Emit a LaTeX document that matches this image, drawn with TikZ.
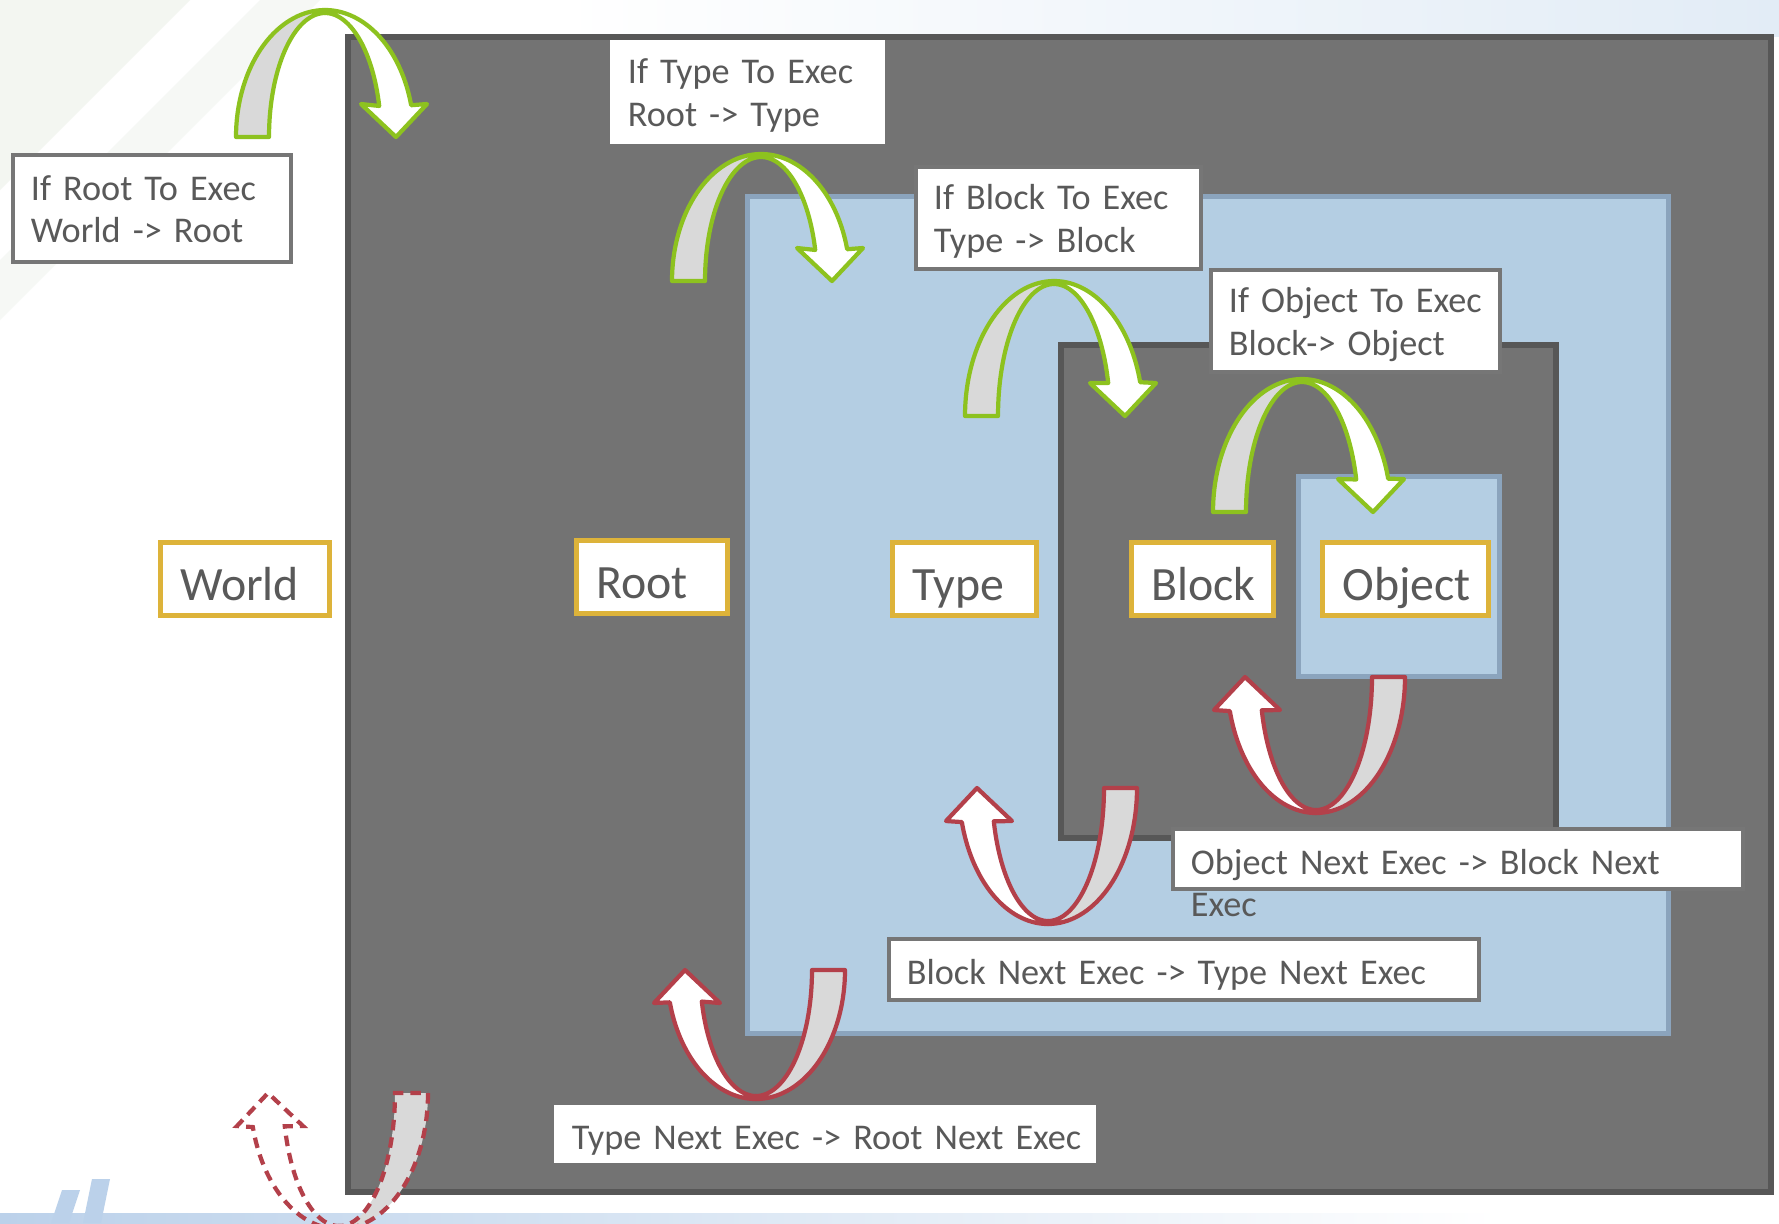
\documentclass[tikz,border=0pt]{standalone}
\usepackage{fontspec}
\setmainfont{Carlito}
\definecolor{darkfill}{HTML}{737373}
\definecolor{darkedge}{HTML}{575757}
\definecolor{bluefill}{HTML}{B4CEE3}
\definecolor{blueedge}{HTML}{8BA4BD}
\definecolor{arrgreen}{HTML}{8DC21F}
\definecolor{arrred}{HTML}{B3404A}
\definecolor{ribbon}{HTML}{D9D9D9}
\definecolor{gold}{HTML}{DDB33A}
\definecolor{txt}{HTML}{595959}
\definecolor{lbledge}{HTML}{767676}
\definecolor{decoblue}{HTML}{BBD1EA}
\definecolor{topblue}{HTML}{E2ECF6}
\definecolor{palegreen}{HTML}{F3F6F1}
\newcommand\LblFont{\fontsize{10.3}{12.2}\selectfont}
\newcommand\BoxFont{\fontsize{13.6}{16}\selectfont}
\newcommand\OneLine[1]{\makebox[\linewidth][l]{#1}}
% U-turn arrow ribbons, local frame: y up, origin = outer bottom-left of the foot
\newcommand\BackRibbon[1]{plot[domain=180:90,samples=36,variable=\t] ({89+89*cos(\t)},{#1*sin(\t)}) -- plot[domain=90:180,samples=36,variable=\t] ({89+56*cos(\t)},{(#1-3)*sin(\t)}) -- cycle}
\newcommand\FrontRibbon[1]{plot[domain=90:14.5,samples=36,variable=\t] ({89+89*cos(\t)},{#1*sin(\t)}) -- (191,33) -- (160,0) -- (125,33) -- plot[domain=14.5:90,samples=36,variable=\t] ({89+56*cos(\t)},{(#1-3)*sin(\t)}) -- cycle}
\begin{document}
\begin{tikzpicture}[x=0.01cm,y=-0.01cm,
  frame/.style={fill=darkfill,draw=darkedge,line width=1.7pt},
  bluebox/.style={fill=bluefill,draw=blueedge,line width=1.4pt},
  ybox/.style={draw=gold,line width=1.4pt,fill=white,text=txt,font=\BoxFont,align=left,
    inner xsep=0.2cm,inner ysep=0pt,minimum height=0.73cm,text height=0.43cm,text depth=0pt},
  lbl/.style={draw=lbledge,line width=1.15pt,fill=white,text=txt,font=\LblFont,align=left,
    inner xsep=0.18cm,inner ysep=0pt,text height=0.26cm,text depth=0.43cm},
  lblone/.style={lbl,text height=0.3cm,text depth=0pt},
  noedge/.style={draw=none},
  gback/.style={fill=ribbon,draw=arrgreen,line width=1.2pt,line join=round},
  gfront/.style={fill=white,draw=arrgreen,line width=1.2pt,line join=round},
  rback/.style={fill=ribbon,draw=arrred,line width=1.2pt,line join=round},
  rfront/.style={fill=white,draw=arrred,line width=1.2pt,line join=round},
  rdash/.style={draw=arrred,line width=1.2pt,dash pattern=on 3pt off 2pt},
  greenturn/.style={shift={#1},yscale=-1},
  redturn/.style={shift={#1},rotate=180,yscale=-1}]
\useasboundingbox (0,0) rectangle (1779,1223);
\clip (0,0) rectangle (1779,1223);
% faint background decoration
\fill[white] (0,0) rectangle (1779,1223);
\shade[left color=white,right color=topblue] (560,0) rectangle (1779,36);
\fill[palegreen] (0,0) -- (190,0) -- (0,190) -- cycle;
\fill[palegreen,opacity=0.7] (0,260) -- (260,0) -- (320,0) -- (0,320) -- cycle;
\shade[left color=decoblue,right color=white] (0,1213) rectangle (1500,1223);
\fill[decoblue] (62,1190) -- (80,1190) -- (69,1223) -- (51,1223) -- cycle;
\fill[decoblue] (92,1179) -- (110,1179) -- (101,1223) -- (83,1223) -- cycle;
% nested frames
\draw[frame] (348,37) rectangle (1771,1192);
\draw[bluebox] (747.5,196.5) rectangle (1668.5,1033.5);
\draw[frame,line width=1.5pt] (1061,345) rectangle (1556,838);
\draw[bluebox] (1298.5,476.5) rectangle (1499.5,676.5);
% level boxes
\node[ybox,minimum width=1.69cm,text width=1.29cm] (world) at (245,579) {World};
\node[ybox,minimum width=1.51cm,text width=1.11cm] (root) at (652,577) {Root};
\node[ybox,minimum width=1.44cm,text width=1.04cm] (type) at (964.5,579) {Type};
\node[ybox,minimum width=1.42cm,text width=1.02cm] (block) at (1202.5,579) {Block};
\node[ybox,minimum width=1.66cm,text width=1.26cm] (object) at (1405.5,579) {Object};
% labels
\node[lbl,minimum width=2.78cm,minimum height=1.07cm,text width=2.42cm] (lroot) at (152,208.5) {If Root To Exec\\World -> Root};
\node[lbl,noedge,minimum width=2.75cm,minimum height=1.04cm,text width=2.39cm] (ltype) at (747.5,92) {If Type To Exec\\Root -> Type};
\node[lbl,minimum width=2.85cm,minimum height=1.02cm,text width=2.49cm] (lblock) at (1058.5,218) {If Block To Exec\\Type -> Block};
\node[lbl,minimum width=2.89cm,minimum height=1.02cm,text width=2.53cm] (lobject) at (1355.5,321) {If Object To Exec\\Block-> Object};
\node[lblone,minimum width=5.70cm,minimum height=0.60cm,text width=5.34cm] (nobject) at (1458,859) {Object Next Exec -> Block Next\\Exec};
\node[lblone,minimum width=5.90cm,minimum height=0.61cm,text width=5.54cm] (nblock) at (1184,969.5) {\OneLine{Block Next Exec -> Type Next Exec}};
\node[lblone,noedge,minimum width=5.42cm,minimum height=0.58cm,text width=5.06cm] (ntype) at (825,1134) {\OneLine{Type Next Exec -> Root Next Exec}};
% green "enter" U-turn arrows
\begin{scope}[greenturn={(236,137)}]
  \draw[gback] \BackRibbon{127}; \draw[gfront] \FrontRibbon{127};
\end{scope}
\begin{scope}[greenturn={(672,281)}]
  \draw[gback] \BackRibbon{127}; \draw[gfront] \FrontRibbon{127};
\end{scope}
\begin{scope}[greenturn={(965,416)}]
  \draw[gback] \BackRibbon{135}; \draw[gfront] \FrontRibbon{135};
\end{scope}
\begin{scope}[greenturn={(1213,512)}]
  \draw[gback] \BackRibbon{133}; \draw[gfront] \FrontRibbon{133};
\end{scope}
% red "next" U-turn arrows
\begin{scope}[redturn={(1405,677)}]
  \draw[rback] \BackRibbon{136}; \draw[rfront] \FrontRibbon{136};
\end{scope}
\begin{scope}[redturn={(1137,788)}]
  \draw[rback] \BackRibbon{136}; \draw[rfront] \FrontRibbon{136};
\end{scope}
\begin{scope}[redturn={(845,970)}]
  \draw[rback] \BackRibbon{129}; \draw[rfront] \FrontRibbon{129};
\end{scope}
\begin{scope}[redturn={(428,1093)}]
  \draw[rdash,fill=ribbon] \BackRibbon{136}; \draw[rdash] \FrontRibbon{136};
\end{scope}
\end{tikzpicture}
\end{document}
